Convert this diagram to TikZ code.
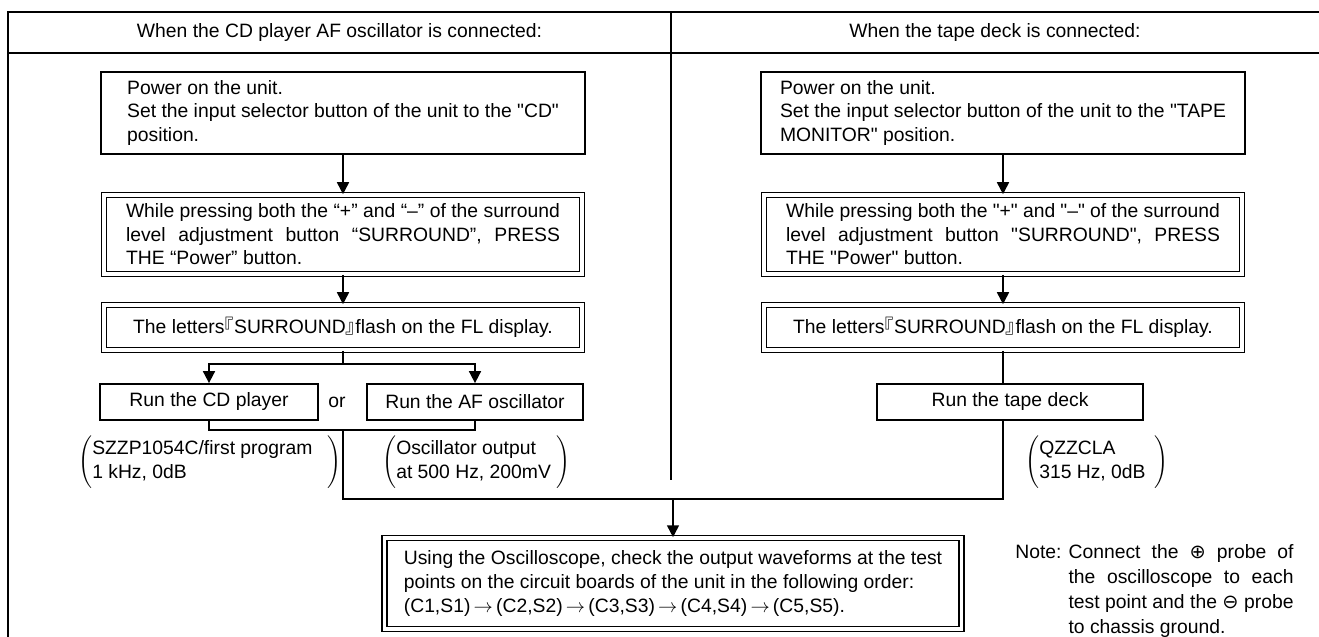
\documentclass[tikz,border=0pt]{standalone}
\usepackage{fontspec}
\setmainfont{Liberation Sans}
\newfontfamily\cjk{Noto Sans CJK SC}
\newfontfamily\sym{DejaVu Sans}
\usetikzlibrary{positioning,arrows.meta}
\newcommand{\dq}{\textquotedbl}

\begin{document}
\begin{tikzpicture}[
  font=\fontsize{11}{13.4}\selectfont,
  frame/.style={line width=1.1pt},
  action/.style={draw, line width=1pt, minimum width=9.68cm, minimum height=1.64cm, align=left, inner sep=0pt},
  keyaction/.style={draw, line width=0.9pt, double, double distance=2pt, minimum width=9.56cm, inner xsep=0.44cm, inner ysep=0pt},
  justified/.style={text width=8.68cm, align=justify},
  runbox/.style={draw, line width=1pt, minimum height=0.72cm, inner sep=0pt},
  signal/.style={anchor=west, inner sep=0pt},
  flow/.style={-{Triangle[length=6.8pt,width=6.8pt]}, line width=1pt},
  wire/.style={line width=1pt}
]
  \useasboundingbox (0,0) rectangle (26.38,12.74);

  \draw[frame] (0.16,0) -- (0.16,12.50) -- (26.38,12.50);
  \draw[frame] (0.16,11.68) -- (26.38,11.68);
  \draw[frame] (13.42,12.50) -- (13.42,3.14);

  \node (hcd) at (6.79,12.09) {When the CD player AF oscillator is connected:};
  \node (htape) at (19.90,12.09) {When the tape deck is connected:};

  \node[action] (powercd) at (6.86,10.48) {Power on the unit.\\Set the input selector button of the unit to the \dq CD\dq\\position.};
  \node[keyaction, justified, minimum height=1.58cm] (presscd) at (6.86,8.05) {While pressing both the “+” and “–” of the surround\linebreak level adjustment button “SURROUND”, PRESS\linebreak THE “Power” button.};
  \node[keyaction, minimum height=0.90cm, align=center] (flashcd) at (6.86,6.19) {The letters{\cjk\hspace{-0.5em}『}SURROUND{\cjk 』\hspace{-0.5em}}flash on the FL display.};
  \node[runbox, minimum width=4.36cm] (runcd) at (4.18,4.70) {Run the CD player};
  \node (or) at (6.74,4.70) {or};
  \node[runbox, minimum width=4.32cm] (runaf) at (9.50,4.70) {Run the AF oscillator};

  \node[action] (powertape) at (20.06,10.48) {Power on the unit.\\Set the input selector button of the unit to the \dq TAPE\\MONITOR\dq\ position.};
  \node[keyaction, justified, minimum height=1.58cm] (presstape) at (20.06,8.05) {While pressing both the \dq+\dq\ and \dq–\dq\ of the surround\linebreak level adjustment button \dq SURROUND\dq, PRESS\linebreak THE \dq Power\dq\ button.};
  \node[keyaction, minimum height=0.90cm, align=center] (flashtape) at (20.06,6.19) {The letters{\cjk\hspace{-0.5em}『}SURROUND{\cjk 』\hspace{-0.5em}}flash on the FL display.};
  \node[runbox, minimum width=5.32cm] (runtape) at (20.20,4.70) {Run the tape deck};

  \node[signal] (disc) at (1.56,3.50) {$\left(\begin{tabular}{@{}p{4.7cm}@{}}SZZP1054C/first program\\1 kHz, 0dB\end{tabular}\right)$};
  \node[signal] (osc) at (7.64,3.50) {$\left(\begin{tabular}{@{}p{3.2cm}@{}}Oscillator output\\at 500 Hz, 200mV\end{tabular}\right)$};
  \node[signal] (tape) at (20.50,3.50) {$\left(\begin{tabular}{@{}p{2.3cm}@{}}QZZCLA\\315 Hz, 0dB\end{tabular}\right)$};

  \node[keyaction, minimum width=11.54cm, minimum height=1.82cm, inner xsep=0pt, align=left] (scope) at (13.46,1.07) {Using the Oscilloscope, check the output waveforms at the test\\points on the circuit boards of the unit in the following order:\\(C1,S1)\,$\rightarrow$\,(C2,S2)\,$\rightarrow$\,(C3,S3)\,$\rightarrow$\,(C4,S4)\,$\rightarrow$\,(C5,S5).};
  \node[anchor=north west, inner sep=0pt, font=\fontsize{11}{14.2}\selectfont] (note) at (20.30,1.92) {\begin{tabular}{@{}l@{\hspace{0.14cm}}p{4.5cm}@{}}Note: & Connect the {\sym ⊕} probe of\linebreak the oscilloscope to each\linebreak test point and the {\sym ⊖} probe\linebreak to chassis ground.\end{tabular}};

  \coordinate (forkcd) at (6.86,5.46);
  \coordinate (joincd) at (6.86,4.14);
  \coordinate (merge) at (13.46,2.76);

  \draw[flow] (powercd) -- (presscd);
  \draw[flow] (presscd) -- (flashcd);
  \draw[wire] (flashcd) -- (forkcd);
  \draw[flow] (forkcd) -| (runcd);
  \draw[flow] (forkcd) -| (runaf);
  \draw[wire] (runcd) |- (joincd) -| (runaf);
  \draw[wire] (joincd) |- (merge);

  \draw[flow] (powertape) -- (presstape);
  \draw[flow] (presstape) -- (flashtape);
  \draw[wire] (flashtape) -- (flashtape.south |- runtape.north);
  \draw[wire] (runtape.south -| flashtape.south) |- (merge);

  \draw[flow] (merge) -- (scope);
\end{tikzpicture}
\end{document}
